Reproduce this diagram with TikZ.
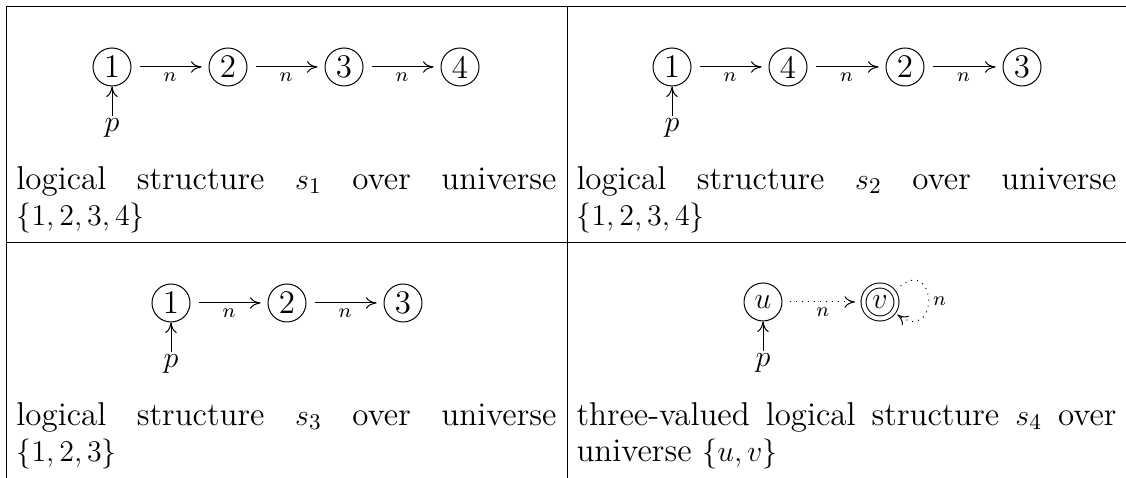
\documentclass[tikz,border=0pt]{standalone}
\usetikzlibrary{arrows.meta}
\begin{document}
\begin{tikzpicture}[x=0.4pt,y=-0.4pt, >={To[length=4.2pt,width=4.6pt]},
  rule/.style={line width=0.45pt, line cap=rect},
  st/.style={circle, draw, minimum size=15.2pt, inner sep=0pt, font=\fontsize{13.2}{14.4}\selectfont},
  sum/.style={circle, draw, double, double distance=1.6pt, minimum size=13.2pt, inner sep=0pt, font=\fontsize{13.2}{14.4}\selectfont},
  nxt/.style={->, shorten >=2.8pt, shorten <=3.2pt},
  nxtd/.style={->, dotted, shorten >=3.2pt, shorten <=2.8pt},
  lab/.style={font=\fontsize{8.5}{10}\selectfont, inner sep=2.2pt},
  ptr/.style={font=\fontsize{13.2}{14.4}\selectfont, inner sep=1pt},
  captext/.style={anchor=north west, text width=216pt, align=justify, inner sep=0pt, font=\fontsize{13.2}{14.4}\selectfont}]
\useasboundingbox (0,0) rectangle (1126,478);
% table rules
\draw[rule] (6.5,478) -- (6.5,6.5) -- (1126,6.5);
\draw[rule] (567.5,6.5) -- (567.5,478);
\draw[rule] (6.5,242.5) -- (1126,242.5);

% s1
\node[st] (a1) at (112,67) {1};
\node[st] (a2) at (228,67) {2};
\node[st] (a3) at (344,67) {3};
\node[st] (a4) at (460,67) {4};
\node[ptr] (ap) at (112,128) {$p$};
\draw[nxt] (a1) -- node[lab,below]{$n$} (a2);
\draw[nxt] (a2) -- node[lab,below]{$n$} (a3);
\draw[nxt] (a3) -- node[lab,below]{$n$} (a4);
\draw[->] (ap) -- (a1);
\node[captext] (at) at (16,166) {logical structure $s_1$ over universe\linebreak $\{1,2,3,4\}$};

% s2
\node[st] (b1) at (672,67) {1};
\node[st] (b4) at (788,67) {4};
\node[st] (b2) at (905,67) {2};
\node[st] (b3) at (1022,67) {3};
\node[ptr] (bp) at (672,128) {$p$};
\draw[nxt] (b1) -- node[lab,below]{$n$} (b4);
\draw[nxt] (b4) -- node[lab,below]{$n$} (b2);
\draw[nxt] (b2) -- node[lab,below]{$n$} (b3);
\draw[->] (bp) -- (b1);
\node[captext] (bt) at (576,166) {logical structure $s_2$ over universe\linebreak $\{1,2,3,4\}$};

% s3
\node[st] (c1) at (171,303) {1};
\node[st] (c2) at (287,303) {2};
\node[st] (c3) at (403,303) {3};
\node[ptr] (cp) at (171,364) {$p$};
\draw[nxt] (c1) -- node[lab,below]{$n$} (c2);
\draw[nxt] (c2) -- node[lab,below]{$n$} (c3);
\draw[->] (cp) -- (c1);
\node[captext] (ct) at (16,402) {logical structure $s_3$ over universe\linebreak $\{1,2,3\}$};

% s4
\node[st] (du) at (763,302) {$u$};
\node[sum] (dv) at (880,302) {$v$};
\node[ptr] (dp) at (763,363) {$p$};
\draw[nxtd] (du) -- node[lab,below]{$n$} (dv);
\draw[->, dotted, shorten <=3.6pt, shorten >=1.8pt] (dv) to[out=38,in=-36,looseness=7] node[lab,right]{$n$} (dv);
\draw[->] (dp) -- (du);
\node[captext] (dt) at (576,402) {three-valued logical structure $s_4$ over\linebreak universe $\{u,v\}$};
\end{tikzpicture}
\end{document}
